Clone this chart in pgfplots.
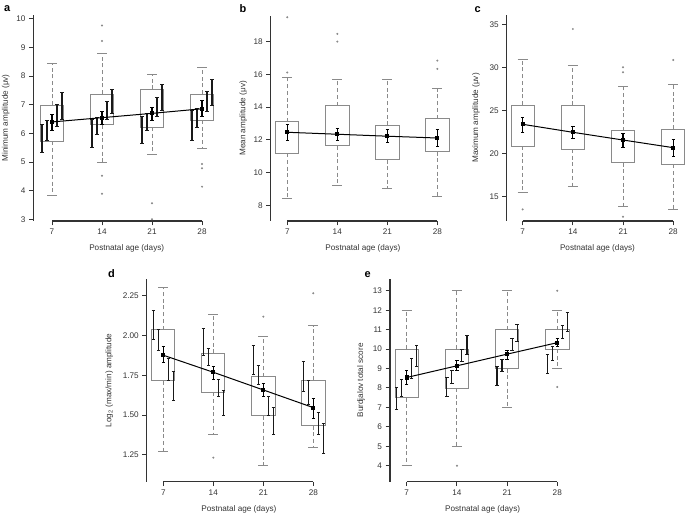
\documentclass[border=0pt]{standalone}
\usepackage{pgfplots}
\pgfplotsset{compat=1.18}
\usepgfplotslibrary{statistics}
\usepackage{fontspec}
\setmainfont{Liberation Sans}
\definecolor{boxgray}{HTML}{8A8A8A}
\definecolor{axgray}{HTML}{333333}
\newcommand\fs{\fontsize{8.2}{9.8}\selectfont}
\pgfplotsset{
  panel/.style={
    scale only axis, clip=false,
    axis x line*=bottom, axis y line*=left,
    axis line style={-},
    x axis line style={draw=none},
    y axis line style={draw=axgray, line width=1.2bp},
    xtick={7,14,21,28},
    tick align=outside, major tick length=4.5bp,
    tick style={draw=axgray, line width=1bp},
    tick label style={font=\fs, text=axgray},
    /pgf/number format/assume math mode=true,
    xlabel={Postnatal age (days)},
    every axis x label/.style={at={([yshift=-27.5bp]axis description cs:0.51,0)}, anchor=center, font=\fs, text=axgray},
  },
  ylab/.style={every axis y label/.style={at={([xshift=#1]axis description cs:0,0.5)}, anchor=center, rotate=90, font=\fs, text=axgray}},
  bx/.style={
    draw=boxgray, line width=0.8bp, solid,
    mark=*, mark size=0.55bp, mark options={draw=boxgray, fill=boxgray},
    boxplot/draw direction=y,
    boxplot/box extend=3.25,
    boxplot/whisker extend=1.4,
    boxplot/draw/median/.code={},
    boxplot/draw/lower whisker/.code={%
      \draw[boxgray, line width=0.8bp, dash pattern=on 4bp off 2.7bp]
        (boxplot cs:\pgfplotsboxplotvalue{lower quartile}) -- (boxplot cs:\pgfplotsboxplotvalue{lower whisker});
      \draw[boxgray, line width=0.8bp, solid]
        (boxplot whisker cs:\pgfplotsboxplotvalue{lower whisker},0) -- (boxplot whisker cs:\pgfplotsboxplotvalue{lower whisker},1);
    },
    boxplot/draw/upper whisker/.code={%
      \draw[boxgray, line width=0.8bp, dash pattern=on 4bp off 2.7bp]
        (boxplot cs:\pgfplotsboxplotvalue{upper quartile}) -- (boxplot cs:\pgfplotsboxplotvalue{upper whisker});
      \draw[boxgray, line width=0.8bp, solid]
        (boxplot whisker cs:\pgfplotsboxplotvalue{upper whisker},0) -- (boxplot whisker cs:\pgfplotsboxplotvalue{upper whisker},1);
    },
  },
  grp/.style={draw=none, mark=none, forget plot,
    error bars/.cd, y dir=both, y explicit,
    error bar style={draw=black!90, line width=1.15bp, solid},
    error mark options={draw=black!90, line width=0.85bp, mark size=1.7bp, rotate=90}},
  mn/.style={black, line width=1bp, mark=square*, mark size=1.6bp, mark options={solid, fill=black},
    error bars/.cd, y dir=both, y explicit,
    error bar style={draw=black, line width=1.15bp, solid},
    error mark options={draw=black, line width=0.85bp, mark size=1.7bp, rotate=90}},
}
\newcommand\bx[5]{\addplot[bx, boxplot prepared={draw position=#1, lower whisker=#2, lower quartile=#3, median=#3, upper quartile=#4, upper whisker=#5}]}
\begin{document}
\begin{tikzpicture}
\node[anchor=base west, font=\fontsize{11}{12}\bfseries\selectfont] at (0.5bp,503.7bp) {a};
\node[anchor=base west, font=\fontsize{11}{12}\bfseries\selectfont] at (236bp,502bp) {b};
\node[anchor=base west, font=\fontsize{11}{12}\bfseries\selectfont] at (471bp,502bp) {c};
\node[anchor=base west, font=\fontsize{11}{12}\bfseries\selectfont] at (104.5bp,237bp) {d};
\node[anchor=base west, font=\fontsize{11}{12}\bfseries\selectfont] at (361bp,237bp) {e};

% ---------- a ----------
\begin{axis}[panel, ylab=-27.8bp, at={(33.5bp,294bp)}, anchor=south west,
  width=182.8bp, height=206.1bp, xmin=4.41, xmax=30, ymin=2.94, ymax=10.14,
  ytick={3,4,...,10}, ylabel={Minimum amplitude (μv)}]
\bx{7}{3.82}{5.72}{6.99}{8.43} coordinates {};
\bx{14}{4.98}{6.30}{7.37}{8.80} table[row sep=\\, y index=0] {v\\ 9.77\\ 9.23\\ 4.52\\ 3.89\\};
\bx{21}{5.25}{6.22}{7.54}{8.07} table[row sep=\\, y index=0] {v\\ 3.56\\ 3.00\\};
\bx{28}{5.48}{6.47}{7.38}{8.31} table[row sep=\\, y index=0] {v\\ 4.93\\ 4.78\\ 4.14\\};
\addplot[grp] coordinates {
 (5.6,5.83) +- (0,0.49) (6.3,6.11) +- (0,0.34) (7.7,6.625) +- (0,0.385) (8.4,6.965) +- (0,0.465)
 (12.6,6.005) +- (0,0.485) (13.3,6.27) +- (0,0.29) (14.7,6.80) +- (0,0.31) (15.4,7.12) +- (0,0.42)
 (19.6,6.135) +- (0,0.475) (20.3,6.40) +- (0,0.30) (21.7,6.925) +- (0,0.335) (22.4,7.27) +- (0,0.45)
 (26.6,6.295) +- (0,0.525) (27.3,6.53) +- (0,0.33) (28.7,7.11) +- (0,0.35) (29.4,7.425) +- (0,0.465)};
\addplot[mn] coordinates {(7,6.40) += (0,0.27) -= (0,0.28) (14,6.55) += (0,0.21) -= (0,0.25) (21,6.70) += (0,0.20) -= (0,0.23) (28,6.86) += (0,0.28) -= (0,0.27)};
\draw[axgray, line width=1.2bp] (axis cs:7,2.94) -- (axis cs:28,2.94);
\end{axis}

% ---------- b ----------
\begin{axis}[panel, ylab=-27.4bp, at={(270.7bp,294bp)}, anchor=south west,
  width=180.9bp, height=205.1bp, xmin=4.68, xmax=30, ymin=7.04, ymax=19.57,
  ytick={8,10,...,18}, ylabel={Mean amplitude (μv)}]
\bx{7}{8.39}{11.18}{13.11}{15.80} table[row sep=\\, y index=0] {v\\ 16.11\\ 19.49\\};
\bx{14}{9.24}{11.63}{14.09}{15.72} table[row sep=\\, y index=0] {v\\ 18.00\\ 18.47\\};
\bx{21}{9.04}{10.79}{12.89}{15.66} coordinates {};
\bx{28}{8.55}{11.28}{13.30}{15.13} table[row sep=\\, y index=0] {v\\ 16.33\\ 16.84\\};
\addplot[mn] coordinates {(7,12.46) +- (0,0.47) (14,12.34) += (0,0.36) -= (0,0.35) (21,12.22) += (0,0.42) -= (0,0.41) (28,12.11) +- (0,0.53)};
\draw[axgray, line width=1.2bp] (axis cs:7,7.04) -- (axis cs:28,7.04);
\end{axis}

% ---------- c ----------
\begin{axis}[panel, ylab=-30.7bp, at={(506.7bp,294bp)}, anchor=south west,
  width=178bp, height=206bp, xmin=4.77, xmax=29.6, ymin=12.17, ymax=36.16,
  ytick={15,20,...,35}, ylabel={Maximum amplitude (μv)}]
\bx{7}{15.50}{20.90}{25.68}{31.04} table[row sep=\\, y index=0] {v\\ 13.52\\};
\bx{14}{16.17}{20.55}{25.64}{30.34} table[row sep=\\, y index=0] {v\\ 34.53\\};
\bx{21}{13.83}{18.96}{22.69}{27.82} table[row sep=\\, y index=0] {v\\ 30.07\\ 29.49\\ 12.67\\};
\bx{28}{13.56}{18.77}{22.88}{28.13} table[row sep=\\, y index=0] {v\\ 30.92\\};
\addplot[mn] coordinates {(7,23.43) += (0,0.81) -= (0,0.93) (14,22.50) += (0,0.66) -= (0,0.74) (21,21.60) += (0,0.78) -= (0,0.81) (28,20.71) += (0,0.97) -= (0,1.05)};
\draw[axgray, line width=1.2bp] (axis cs:7,12.17) -- (axis cs:28,12.17);
\end{axis}

% ---------- d ----------
\begin{axis}[panel, ylab=-37.4bp, at={(146.7bp,33.3bp)}, anchor=south west,
  width=180.9bp, height=202.8bp, xmin=4.68, xmax=30, ymin=1.082, ymax=2.355,
  ytick={1.25,1.5,1.75,2,2.25},
  yticklabel style={/pgf/number format/.cd, fixed, fixed zerofill, precision=2},
  ylabel={Log\textsubscript{2} (max/min) amplitude}]
\bx{7}{1.271}{1.715}{2.037}{2.302} coordinates {};
\bx{14}{1.380}{1.643}{1.888}{2.133} table[row sep=\\, y index=0] {v\\ 1.233\\};
\bx{21}{1.187}{1.497}{1.742}{1.993} table[row sep=\\, y index=0] {v\\ 2.118\\};
\bx{28}{1.298}{1.434}{1.721}{2.060} table[row sep=\\, y index=0] {v\\ 2.265\\};
\addplot[grp] coordinates {
 (5.6,2.068) +- (0,0.092) (6.3,1.972) +- (0,0.067) (7.7,1.787) +- (0,0.07) (8.4,1.686) +- (0,0.091)
 (12.6,1.96) +- (0,0.085) (13.3,1.8645) +- (0,0.0555) (14.7,1.6705) +- (0,0.0545) (15.4,1.5765) +- (0,0.0815)
 (19.6,1.847) +- (0,0.089) (20.3,1.7505) +- (0,0.0605) (21.7,1.5585) +- (0,0.0575) (22.4,1.4645) +- (0,0.0845)
 (26.6,1.7435) +- (0,0.0965) (27.3,1.6405) +- (0,0.0765) (28.7,1.449) +- (0,0.069) (29.4,1.3545) +- (0,0.0945)};
\addplot[mn] coordinates {(7,1.876) += (0,0.054) -= (0,0.046) (14,1.769) += (0,0.036) -= (0,0.044) (21,1.658) += (0,0.038) -= (0,0.042) (28,1.547) += (0,0.059) -= (0,0.067)};
\draw[axgray, line width=1.2bp] (axis cs:7,1.082) -- (axis cs:28,1.082);
\end{axis}

% ---------- e ----------
\begin{axis}[panel, ylab=-29bp, at={(390bp,33.3bp)}, anchor=south west,
  width=181.6bp, height=202.6bp, xmin=4.67, xmax=30, ymin=3.18, ymax=13.6,
  ytick={4,5,...,13}, ylabel={Burdjalov total score}]
\bx{7}{4}{7.5}{10}{12} coordinates {};
\bx{14}{5}{8}{10}{13} table[row sep=\\, y index=0] {v\\ 4\\};
\bx{21}{7}{9}{11}{13} coordinates {};
\bx{28}{9}{10}{11}{12} table[row sep=\\, y index=0] {v\\ 13\\ 8.05\\};
\addplot[grp] coordinates {
 (5.6,7.465) +- (0,0.565) (6.3,7.995) +- (0,0.445) (7.7,9.005) +- (0,0.515) (8.4,9.65) +- (0,0.56)
 (12.6,8.045) +- (0,0.495) (13.3,8.58) +- (0,0.34) (14.7,9.675) +- (0,0.325) (15.4,10.23) +- (0,0.49)
 (19.6,8.64) +- (0,0.49) (20.3,9.18) +- (0,0.31) (21.7,10.25) +- (0,0.30) (22.4,10.835) +- (0,0.455)
 (26.6,9.245) +- (0,0.495) (27.3,9.76) +- (0,0.36) (28.7,10.895) +- (0,0.345) (29.4,11.40) +- (0,0.47)};
\addplot[mn] coordinates {(7,8.54) += (0,0.38) -= (0,0.36) (14,9.14) += (0,0.26) -= (0,0.22) (21,9.74) += (0,0.21) -= (0,0.25) (28,10.33) += (0,0.22) -= (0,0.21)};
\draw[axgray, line width=1.2bp] (axis cs:7,3.18) -- (axis cs:28,3.18);
\end{axis}
\pgfresetboundingbox
\useasboundingbox (0bp,0bp) rectangle (685bp,515bp);
\end{tikzpicture}
\end{document}
